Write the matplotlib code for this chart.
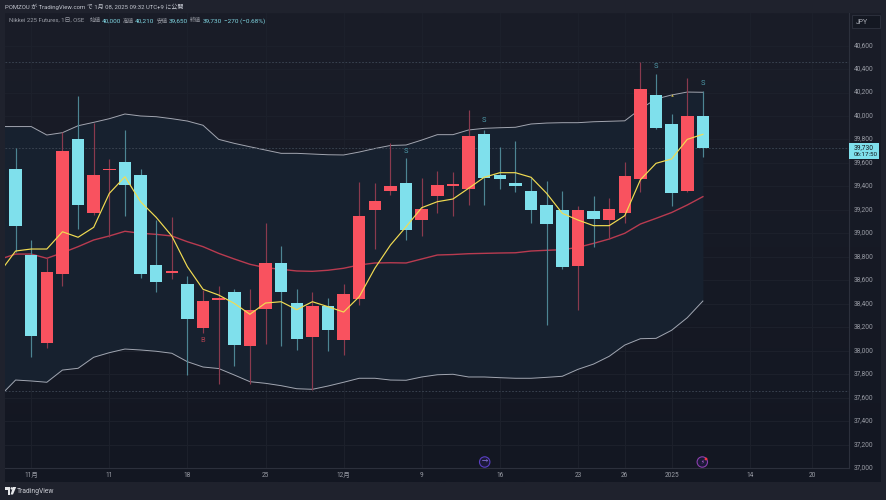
import numpy as np
import matplotlib
matplotlib.use("Agg")
import matplotlib.pyplot as plt
from matplotlib.patches import Rectangle, Polygon, Circle
from matplotlib.ticker import FixedLocator, FuncFormatter
from matplotlib.transforms import ScaledTranslation

W, H = 887, 500
FONT = ['Roboto', 'Noto Sans CJK JP', 'DejaVu Sans']
plt.rcParams['font.family'] = FONT

# ---------- data (prices) ----------
candle_index = list(range(45))
opens = [39550,38820,38070,38650,39800,39170,39540,39610,39500,38730,38660,38570,38190,38430,38500,
         38040,38360,38750,38410,38120,38380,38090,38440,39200,39360,39430,39110,39320,39400,39380,
         39850,39500,39430,39360,39240,39200,38720,39190,39110,39170,39460,40180,39930,39360,40000]
closes = [39060,38130,38670,39700,39240,39500,39550,39410,38650,38590,38680,38270,38420,38450,38050,
          38350,38750,38500,38100,38380,38180,38480,39150,39280,39400,39030,39210,39410,39420,39830,
          39470,39460,39400,39200,39080,38710,39200,39120,39210,39490,40230,39900,39340,40000,39730]
highs = [39730,38940,38790,39860,40170,39940,39630,39880,39550,39110,39140,38640,38520,38550,38530,
         38530,39090,38890,38530,38500,38450,38570,39440,39430,39770,39640,39470,39530,39520,40050,
         39880,39740,39790,39470,39450,39360,39230,39320,39300,39610,40460,40360,40020,40320,40210]
lows = [38840,37950,38020,38550,39040,39160,38970,39150,38620,38500,38610,37790,38150,37720,37870,
        37720,38060,38040,38010,37670,38000,37960,38390,38870,39330,38940,38980,39170,39150,39240,
        39240,39380,39350,39090,38220,38700,38350,38880,38950,39090,39350,39890,39230,39350,39650]

band_index = list(range(-1, 45))
upper_band = [39910,39910,39910,39838,39858,39917,39946,39977,40017,40000,39994,39977,39957,39921,39801,39767,
              39738,39710,39682,39682,39676,39670,39668,39693,39723,39749,39753,39795,39841,39841,39881,
              39895,39900,39904,39932,39940,39943,39943,39951,39955,39959,40060,40145,40179,40204,40202]
mid_band = [38780,38824,38824,38788,38835,38887,38944,38978,39018,39001,38992,38978,38929,38887,38830,38782,
            38737,38708,38694,38680,38677,38686,38703,38731,38748,38750,38748,38782,38816,38820,38827,
            38830,38833,38835,38850,38856,38861,38881,38915,38952,39001,39080,39128,39178,39242,39313]
lower_band = [37615,37751,37743,37732,37836,37851,37945,37984,38015,38007,37996,37979,37907,37862,37849,37794,
              37737,37723,37703,37677,37672,37700,37732,37766,37766,37751,37749,37777,37796,37800,37777,
              37777,37771,37766,37766,37774,37783,37842,37887,37953,38049,38103,38106,38175,38282,38424]
fast_ma = [38671,38850,38867,38867,39014,38967,39052,39341,39483,39270,39137,38978,38716,38524,38475,38404,
           38311,38407,38418,38350,38418,38376,38330,38461,38703,38901,39057,39219,39270,39293,39384,
           39478,39517,39517,39478,39341,39171,39114,39066,39066,39151,39457,39597,39634,39801,39844]

level_prices = [40460, 39730, 37660]

sell_index = [25, 30, 41, 44]
sell_price = [39700, 39960, 40420, 40280]
buy_index = [12]
buy_price = [38085]

price_ticks = list(range(37000, 40601, 200))
date_positions = [1, 6, 11, 16, 21, 26, 31, 36, 39, 42, 47, 51]
date_labels = ['11月', '11', '18', '25', '12月', '9', '16', '23', '26', '2025', '14', '20']

# ---------- palette ----------
C_FRAME = '#1f222d'
C_UP = '#f9525f'
C_DOWN = '#7fe0ec'
C_UP_WICK = '#8a3a4e'
C_DOWN_WICK = '#4d8593'
C_FILL = '#17212f'
C_GRID = '#1d212c'
C_AXIS = '#2c303c'
C_TEXT = '#9a9da6'
C_LEVEL = '#3f4957'

fig = plt.figure(figsize=(W / 100, H / 100), dpi=100, facecolor=C_FRAME)


def box(x0, y_top, x1, y_bot):
    return [x0 / W, 1 - y_bot / H, (x1 - x0) / W, (y_bot - y_top) / H]


# pane background with soft vertical gradient
bg = fig.add_axes(box(5, 13, 881, 482), zorder=0)
bg.set_axis_off()
top = np.array(matplotlib.colors.to_rgb('#1a1d28'))
bot = np.array(matplotlib.colors.to_rgb('#131722'))
ramp = np.linspace(0, 1, 256)[:, None, None]
bg.imshow(top * (1 - ramp) + bot * ramp, aspect='auto', extent=(0, 1, 0, 1))

# main chart axes: x index linear, y price linear
ax = fig.add_axes(box(5, 13, 849, 468.3), zorder=1)
ax.patch.set_alpha(0)
xl = (5 - 15.6) / 15.62
xr = (849 - 15.6) / 15.62
ax.set_xlim(xl, xr)
ax.set_ylim(40000 - (468.3 - 116) / 0.1174, 40000 + (116 - 13) / 0.1174)

ax.xaxis.set_major_locator(FixedLocator(date_positions))
ax.set_xticklabels(date_labels)
ax.yaxis.tick_right()
ax.yaxis.set_major_locator(FixedLocator(price_ticks))
ax.yaxis.set_major_formatter(FuncFormatter(lambda v, _: f'{int(v):,}'))
ax.tick_params(axis='both', length=0, labelsize=4.7, labelcolor=C_TEXT)
ax.tick_params(axis='x', pad=2.5)
ax.tick_params(axis='y', pad=3.5)
lift = ScaledTranslation(0, 1.4 / 100, fig.dpi_scale_trans)
for tick in ax.yaxis.get_major_ticks():
    tick.label2.set_transform(tick.label2.get_transform() + lift)
ax.grid(True, color=C_GRID, lw=0.7, zorder=0)
ax.set_axisbelow(True)
for name, sp in ax.spines.items():
    sp.set_visible(name in ('right', 'bottom'))
    sp.set_color(C_AXIS)
    sp.set_linewidth(0.8)

# bands
ax.fill_between(band_index, lower_band, upper_band, color=C_FILL, lw=0, zorder=1)
ax.plot(band_index, upper_band, color='#a2a6b1', lw=0.7, zorder=2)
ax.plot(band_index, lower_band, color='#a2a6b1', lw=0.7, zorder=2)
ax.plot(band_index, mid_band, color='#b93b50', lw=1.0, zorder=2)

# level lines
for p in level_prices:
    ax.axhline(p, color=C_LEVEL, lw=0.6, ls=(0, (2, 2)), zorder=2)

# candles
for i, o, c, h, l in zip(candle_index, opens, closes, highs, lows):
    up = c >= o
    ax.vlines(i, l, h, color=C_UP_WICK if up else C_DOWN_WICK, lw=0.85, zorder=3)
ax.bar(candle_index, [abs(c - o) for o, c in zip(opens, closes)],
       bottom=[min(o, c) for o, c in zip(opens, closes)], width=0.8,
       color=[C_UP if c >= o else C_DOWN for o, c in zip(opens, closes)], lw=0, zorder=4)

# fast moving average on top
ax.plot(band_index, fast_ma, color='#f2dc52', lw=0.85, zorder=5)
ax.scatter([42], [40178], marker='^', s=3, color='#d9c24a', lw=0, zorder=5)

# signal letters
for i, p in zip(sell_index, sell_price):
    ax.text(i, p, 'S', color='#4f9bab', fontsize=5.4, ha='center', va='center', zorder=6)
for i, p in zip(buy_index, buy_price):
    ax.text(i, p, 'B', color='#a9404f', fontsize=5.4, ha='center', va='center', zorder=6)


# ---------- figure-level furniture (pixel coordinates) ----------
def ftext(x, y, s, color='#b2b5be', size=4.9, ha='left', **kw):
    fig.text(x / W, 1 - y / H, s, color=color, fontsize=size, ha=ha, va='center', zorder=10, **kw)


def frect(x0, y0, x1, y1, fc, ec='none', lw=0.0):
    fig.add_artist(Rectangle((x0 / W, 1 - y1 / H), (x1 - x0) / W, (y1 - y0) / H, transform=fig.transFigure,
                             facecolor=fc, edgecolor=ec, lw=lw, zorder=9))


def fpoly(pts, fc):
    fig.add_artist(Polygon([(x / W, 1 - y / H) for x, y in pts], closed=True, transform=fig.transFigure,
                           facecolor=fc, edgecolor='none', zorder=10))


# header
ftext(5, 7.3, 'POMZOU が TradingView.com で 1月 08, 2025 09:32 UTC+9 に公開', color='#c3c6cf', size=4.3)
C_LEG = '#9a9da6'
C_VAL = '#7fd4e0'
ftext(9, 20.8, 'Nikkei 225 Futures, 1日, OSE', color=C_LEG, size=4.35)
for x, s in [(90, '始値'), (123, '高値'), (157, '安値'), (190, '終値')]:
    ftext(x, 20.8, s, color=C_LEG, size=4.0)
for x, s in [(102, '40,000'), (135, '40,210'), (169, '39,650'), (203, '39,730'), (224, '−270 (−0.68%)')]:
    ftext(x, 20.8, s, color=C_VAL, size=4.6)

# currency box
frect(852, 15, 880, 28, '#141822', ec='#2c303c', lw=0.7)
ftext(855.5, 22, 'JPY', color='#b2b5be', size=4.9)

# last price tag
frect(849.5, 143.3, 879, 159, C_DOWN)
ftext(853.5, 147.5, '39,730', color='#101419', size=4.8)
ftext(853.5, 154.5, '06:17:50', color='#101419', size=4.5)

# event icons on the time axis
for (x, ring) in [(484.7, '#5a3fc4'), (702.3, '#8b3fae')]:
    fig.add_artist(Circle((x, H - 462), 5.2, transform=None, facecolor='#1c1a38', edgecolor=ring, lw=0.8, zorder=8))
ftext(484.7, 462, '→', color='#8d79e0', size=4.5, ha='center')
ftext(702.3, 462, '⚡', color='#b061d0', size=4.0, ha='center', family=['DejaVu Sans'])
fig.add_artist(Circle((706, H - 459), 1.4, transform=None, facecolor='#f23645', edgecolor='none', zorder=9))

# footer logo
fpoly([(5, 487), (10.4, 487), (10.4, 494.5), (7.8, 494.5), (7.8, 489.6), (5, 489.6)], '#e6e7ea')
fig.add_artist(Circle((11.8, H - 488.4), 1.25, transform=None, facecolor='#e6e7ea', edgecolor='none', zorder=10))
fpoly([(13, 487), (16.2, 487), (13, 494.5), (10.6, 494.5)], '#e6e7ea')
ftext(16.8, 491.2, 'TradingView', color='#c9cbd2', size=4.9)

fig.savefig('out.png', dpi=100, facecolor=C_FRAME)
